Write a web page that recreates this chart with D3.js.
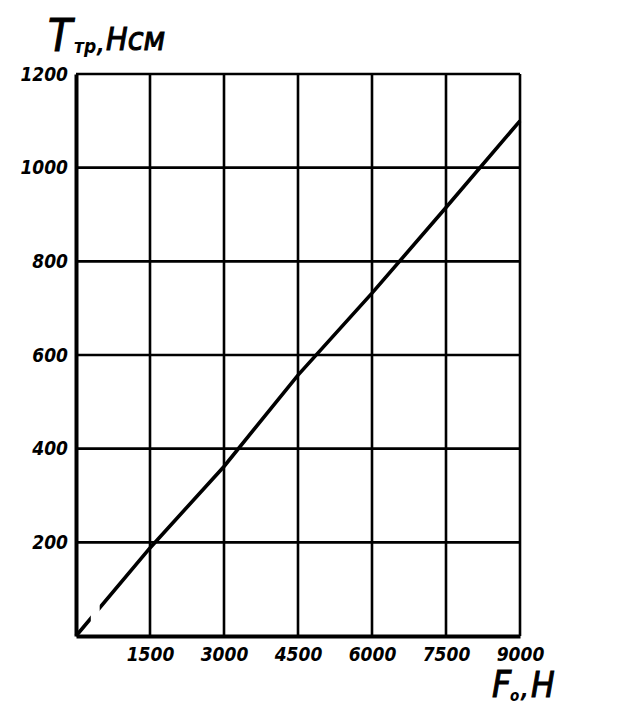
<!DOCTYPE html>
<html>
<head>
<meta charset="utf-8">
<script src="https://cdn.jsdelivr.net/npm/d3@7"></script>
<style>
  html, body { margin: 0; padding: 0; background: #fff; }
  svg { display: block; }
  .tick text { font-family: "DejaVu Sans Condensed", "DejaVu Sans", sans-serif; font-weight: bold; font-style: italic; font-size: 19px; fill: #000; }
</style>
</head>
<body>
<script>
// Data
const forceF = [0, 1500, 3000, 4500, 6000, 7500, 9000];          // F0, H
const torqueT = [0, 188, 362, 557, 732, 915, 1100];               // Ttr, Hcm
const xTicks = [1500, 3000, 4500, 6000, 7500, 9000];
const yTicks = [200, 400, 600, 800, 1000, 1200];
const gapF = [300, 480]; // break in the line near the origin

const W = 635, H = 716;
const margin = { left: 76, right: 115, top: 74, bottom: 80 };

const svg = d3.select("body").append("svg").attr("width", W).attr("height", H);

const x = d3.scaleLinear().domain([0, 9000]).range([margin.left, W - margin.right]);
const y = d3.scaleLinear().domain([0, 1200]).range([H - margin.bottom, margin.top]);

// Grid
const grid = svg.append("g");
grid.selectAll("line.v").data(xTicks).join("line")
  .attr("x1", d => x(d)).attr("x2", d => x(d))
  .attr("y1", y(0)).attr("y2", y(1200))
  .attr("stroke", "#000").attr("stroke-width", 2.6);
grid.selectAll("line.h").data(yTicks).join("line")
  .attr("x1", x(0)).attr("x2", x(9000))
  .attr("y1", d => y(d)).attr("y2", d => y(d))
  .attr("stroke", "#000").attr("stroke-width", 2.6);

// Axes
const xAxis = svg.append("g").attr("transform", `translate(0,${y(0)})`)
  .call(d3.axisBottom(x).tickValues(xTicks).tickSize(0).tickPadding(8).tickFormat(d3.format("d")));
xAxis.select(".domain").attr("stroke", "#000").attr("stroke-width", 4);
xAxis.selectAll(".tick text").attr("dy", "0.9em");

const yAxis = svg.append("g").attr("transform", `translate(${x(0)},0)`)
  .call(d3.axisLeft(y).tickValues(yTicks).tickSize(0).tickPadding(8).tickFormat(d3.format("d")));
yAxis.select(".domain").attr("stroke", "#000").attr("stroke-width", 4);

// Mask for the break near the origin
const defs = svg.append("defs");
const mask = defs.append("mask").attr("id", "gapMask");
mask.append("rect").attr("x", 0).attr("y", 0).attr("width", W).attr("height", H).attr("fill", "#fff");
mask.append("rect").attr("x", x(gapF[0])).attr("y", 0)
  .attr("width", x(gapF[1]) - x(gapF[0])).attr("height", H).attr("fill", "#000");

// Line
const line = d3.line().x((d, i) => x(forceF[i])).y(d => y(d));
svg.append("path").datum(torqueT)
  .attr("d", line)
  .attr("fill", "none").attr("stroke", "#000").attr("stroke-width", 3.6)
  .attr("mask", "url(#gapMask)");

// Axis titles
const fam = '"DejaVu Sans Condensed", "DejaVu Sans", sans-serif';
function label(tx, ty, size, txt, bold) {
  return svg.append("text").attr("x", tx).attr("y", ty)
    .attr("font-family", fam).attr("font-style", "italic")
    .attr("font-weight", bold ? "bold" : "normal")
    .attr("font-size", size).attr("fill", "#000")
    .attr("stroke", "#000").attr("stroke-width", bold ? 0 : 1)
    .text(txt);
}
label(48, 51, 44, "T", false);
label(74, 53, 19, "тр", true);
label(97, 52, 26, ",", false);
label(106, 50, 32, "Нсм", false);

label(492, 697, 37, "F", false);
label(510, 701, 15, "o", true);
label(521, 697, 26, ",", false);
label(531, 697, 35, "Н", false);
</script>
</body>
</html>
